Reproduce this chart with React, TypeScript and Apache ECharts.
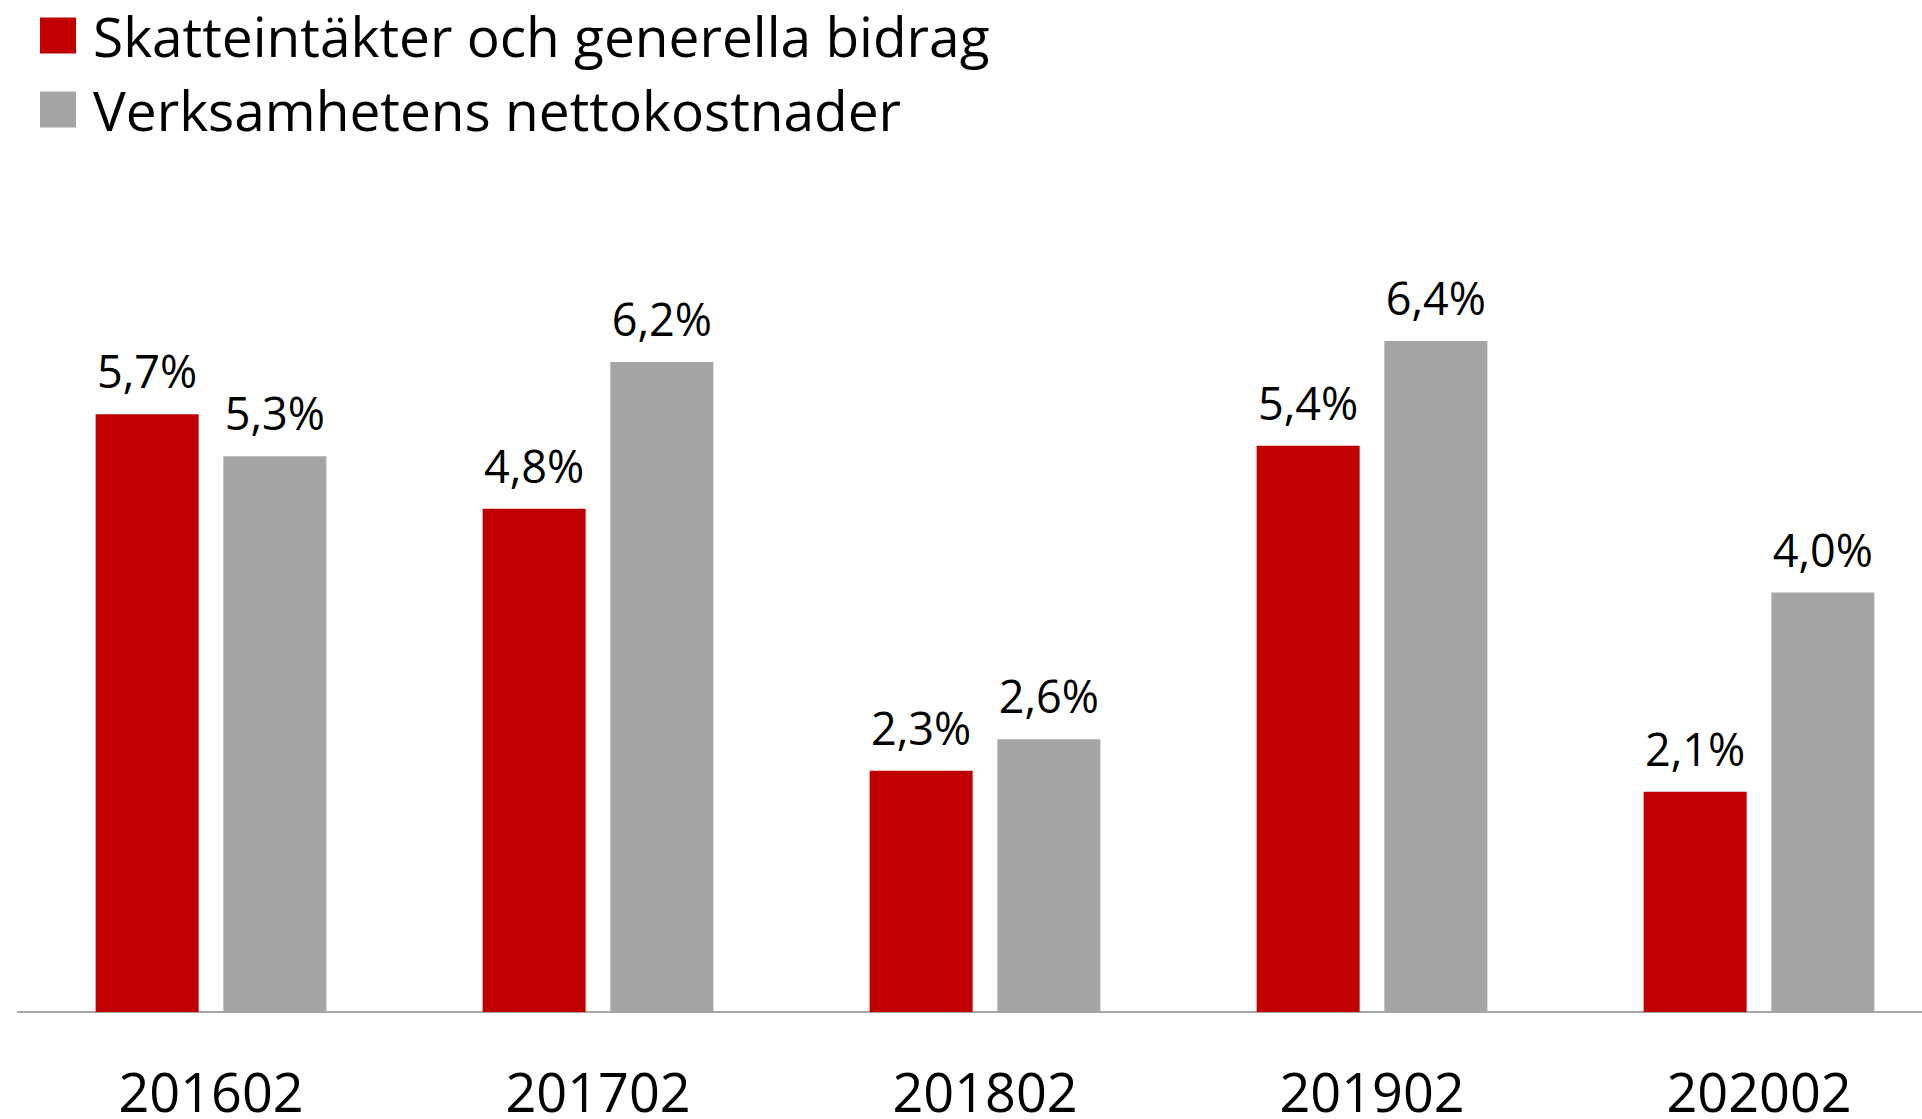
import React, { useEffect, useRef } from "react";
import * as echarts from "echarts";

const categories = ["201602", "201702", "201802", "201902", "202002"];
const seriesNames = ["Skatteintäkter och generella bidrag", "Verksamhetens nettokostnader"];
const skatteintakter = [5.7, 4.8, 2.3, 5.4, 2.1];
const nettokostnader = [5.3, 6.2, 2.6, 6.4, 4.0];

const FONT = "'Open Sans', sans-serif";

export default function App() {
  const ref = useRef<HTMLDivElement>(null);
  useEffect(() => {
    if (!ref.current) return;
    const chart = echarts.init(ref.current, undefined, { renderer: "svg" });
    const fmt = (p: any) => p.value.toFixed(1).replace(".", ",") + "%";
    chart.setOption({
      animation: false,
      backgroundColor: "#ffffff",
      textStyle: { fontFamily: FONT },
      legend: {
        orient: "vertical",
        left: 40,
        top: 8,
        padding: 0,
        itemWidth: 36,
        itemHeight: 36,
        itemGap: 19,
        icon: "rect",
        data: seriesNames,
        textStyle: {
          fontFamily: FONT,
          fontSize: 55,
          color: "#000000",
          padding: [0, 0, 0, 12],
        },
      },
      grid: { left: 17.5, top: 278, width: 1935, bottom: 1119 - 1012, containLabel: false },
      xAxis: {
        type: "category",
        data: categories,
        axisLine: { show: true, lineStyle: { color: "#898989", width: 1.5 } },
        axisTick: { show: false },
        axisLabel: { fontFamily: FONT, fontSize: 54, lineHeight: 40, color: "#000000", margin: 59 },
      },
      yAxis: {
        type: "value",
        min: 0,
        max: 7,
        show: false,
        splitLine: { show: false },
      },
      series: [
        {
          name: seriesNames[0],
          type: "bar",
          data: skatteintakter,
          barWidth: 103,
          barGap: "24%",
          itemStyle: { color: "#C00000" },
          label: {
            show: true,
            position: "top",
            distance: 21,
            formatter: fmt,
            fontFamily: FONT,
            fontSize: 45,
            color: "#000000",
          },
        },
        {
          name: seriesNames[1],
          type: "bar",
          data: nettokostnader,
          barWidth: 103,
          barGap: "24%",
          itemStyle: { color: "#A5A5A5" },
          label: {
            show: true,
            position: "top",
            distance: 21,
            formatter: fmt,
            fontFamily: FONT,
            fontSize: 45,
            color: "#000000",
          },
        },
      ],
    });
    return () => chart.dispose();
  }, []);
  return (
    <div
      style={{
        position: "fixed",
        left: 0,
        top: 0,
        width: 1922,
        height: 1119,
        overflow: "hidden",
        background: "#ffffff",
      }}
    >
      <div ref={ref} style={{ width: 1960, height: 1119 }} />
    </div>
  );
}
